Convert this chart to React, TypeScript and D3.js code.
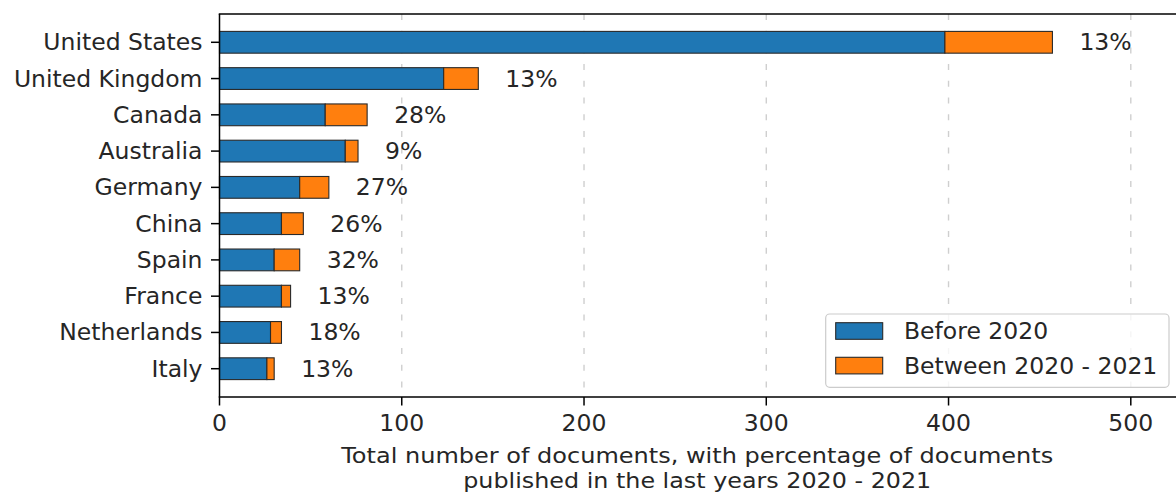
import React from "react";
import * as d3 from "d3";

const countries = ["United States", "United Kingdom", "Canada", "Australia", "Germany", "China", "Spain", "France", "Netherlands", "Italy"];
const before2020 = [398, 123, 58, 69, 44, 34, 30, 34, 28, 26];
const between2020_2021 = [59, 19, 23, 7, 16, 12, 14, 5, 6, 4];
const xTicks = [0, 100, 200, 300, 400, 500];
const legendLabels = ["Before 2020", "Between 2020 - 2021"];
const colors = ["#1f77b4", "#ff7f0e"];
const xLabelLines = [
  "Total number of documents, with percentage of documents",
  "published in the last years 2020 - 2021",
];

const W = 1176;
const H = 493;
const FONT = "'DejaVu Sans', sans-serif";
const FS = 23.5;

export default function App() {
  const left = 219.5;
  const top = 14;
  const bottom = 397;
  const x = d3.scaleLinear().domain([0, 500]).range([left, 1130.8]);
  const y = d3.scaleLinear().domain([-0.78, 9.78]).range([top, bottom]);
  const bh = (y(0.3) - y(-0.3));
  const edge = "#2a2a2a";
  const axisRight = 1177;
  const xLabelWidths = [712, 468];

  return (
    <svg width={W} height={H} style={{ position: "absolute", left: 0, top: 0, background: "#fff" }} fontFamily={FONT}>
      <rect x={0} y={0} width={W} height={H} fill="#fff" />
      {/* grid */}
      {xTicks.filter((t) => t > 0).map((t) => (
        <line key={"g" + t} x1={x(t)} x2={x(t)} y1={top} y2={bottom} stroke="#cfcfcf" strokeWidth={1.4} strokeDasharray="6 10.7" />
      ))}
      {/* bars */}
      {countries.map((c, i) => {
        const b = before2020[i];
        const a = between2020_2021[i];
        const total = b + a;
        const pct = Math.round((a / total) * 100);
        const cy = y(i);
        return (
          <g key={c}>
            <rect x={x(0)} y={cy - bh / 2} width={x(b) - x(0)} height={bh} fill={colors[0]} stroke={edge} strokeWidth={1.1} />
            <rect x={x(b)} y={cy - bh / 2} width={x(total) - x(b)} height={bh} fill={colors[1]} stroke={edge} strokeWidth={1.1} />
            <text x={x(total) + 27} y={cy + 8} fontSize={FS} fill="#262626">{pct}%</text>
          </g>
        );
      })}
      {/* spines */}
      <line x1={left} x2={left} y1={top} y2={bottom} stroke="#000" strokeWidth={1.5} />
      <line x1={left - 0.75} x2={axisRight} y1={bottom} y2={bottom} stroke="#000" strokeWidth={1.5} />
      <line x1={left - 0.75} x2={axisRight} y1={top} y2={top} stroke="#000" strokeWidth={1.5} />
      {/* y ticks */}
      {countries.map((c, i) => (
        <g key={"yt" + c}>
          <line x1={left - 8.5} x2={left} y1={y(i)} y2={y(i)} stroke="#000" strokeWidth={1.5} />
          <text x={left - 17} y={y(i) + 8} fontSize={FS} textAnchor="end" fill="#262626">{c}</text>
        </g>
      ))}
      {/* x ticks */}
      {xTicks.map((t) => (
        <g key={"xt" + t}>
          <line x1={x(t)} x2={x(t)} y1={bottom} y2={bottom + 8.5} stroke="#000" strokeWidth={1.5} />
          <text x={x(t)} y={431} fontSize={FS} textAnchor="middle" fill="#262626">{t}</text>
        </g>
      ))}
      {/* x label */}
      {xLabelLines.map((l, k) => (
        <text key={"xl" + k} x={(left + axisRight) / 2 - 1} y={463 + k * 25} fontSize={21.5} textAnchor="middle" fill="#262626" textLength={xLabelWidths[k]} lengthAdjust="spacingAndGlyphs">{l}</text>
      ))}
      {/* legend */}
      <g>
        <rect x={825.7} y={314} width={343.3} height={73.3} rx={4} fill="#fff" fillOpacity={0.8} stroke="#cccccc" strokeWidth={1.2} />
        {legendLabels.map((l, k) => (
          <g key={"lg" + k}>
            <rect x={835.7} y={322.7 + k * 34.6} width={47} height={16.6} fill={colors[k]} stroke={edge} strokeWidth={1.1} />
            <text x={904} y={339.3 + k * 34.6} fontSize={FS} fill="#262626">{l}</text>
          </g>
        ))}
      </g>
    </svg>
  );
}
